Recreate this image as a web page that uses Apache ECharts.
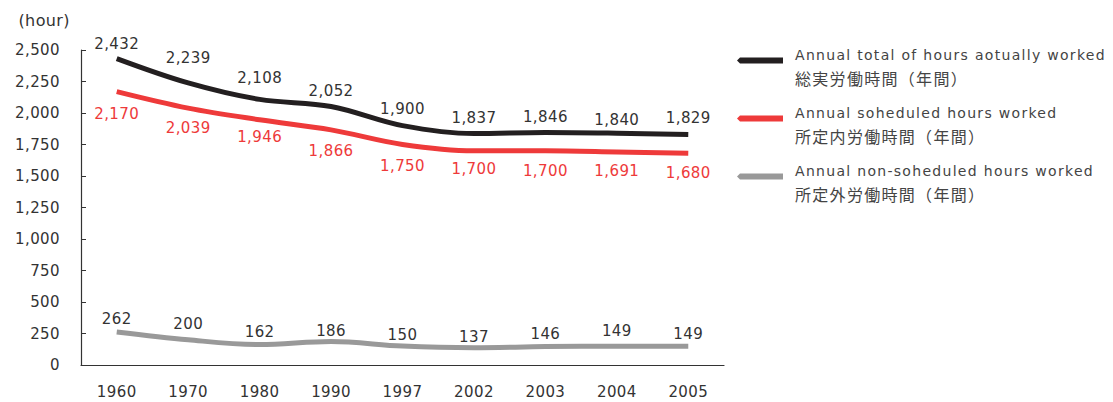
<!DOCTYPE html>
<html><head><meta charset="utf-8">
<script src="https://cdn.jsdelivr.net/npm/echarts@6/dist/echarts.min.js"></script>
<style>
html,body{margin:0;padding:0;background:#fff}
#c{width:1113px;height:402px}
#c svg text{letter-spacing:0.4px}
#c svg text[fill="#444"]{letter-spacing:1.3px}
</style>
</head><body><div id="c"></div>
<script>
var years = ['1960','1970','1980','1990','1997','2002','2003','2004','2005'];
var totalHours = [2432,2239,2108,2052,1900,1837,1846,1840,1829];
var scheduledHours = [2170,2039,1946,1866,1750,1700,1700,1691,1680];
var nonScheduledHours = [262,200,162,186,150,137,146,149,149];
var legendEn = ['Annual total of hours aotually worked','Annual soheduled hours worked','Annual non-soheduled hours worked'];
var legendJa = ['総実労働時間（年間）','所定内労働時間（年間）','所定外労働時間（年間）'];
// label gap (px, label centre to line) as placed in the original artwork
var gapTotal = [15, 25, 21, 15, 17, 15.5, 15, 13, 16.5];
var gapScheduled = [22, 20, 17.5, 21, 21, 18, 20, 19, 19.5];
var gapNonScheduled = [13, 16, 13, 11, 11, 11, 12.5, 15, 12];

var seriesNames = legendEn.map(function(e, i){ return e + '\n' + legendJa[i]; });
var fmt = function(v){ return String(v).replace(/\B(?=(\d{3})+(?!\d))/g, ','); };
var FONT = '"DejaVu Sans", "Noto Sans CJK JP", sans-serif';
var chart = echarts.init(document.getElementById('c'), null, {renderer: 'svg'});
function mk(name, values, gaps, color, labelColor, pos){
  var sign = pos === 'top' ? -1 : 1;
  return {
    name: name, type: 'line', smooth: 0.35,
    data: values.map(function(v, i){
      return {value: v, label: {offset: [0, sign * (gaps[i] - 7.5)]}};
    }),
    symbol: 'circle', symbolSize: 0, showSymbol: true,
    itemStyle: {color: color},
    lineStyle: {color: color, width: 5},
    label: {show: true, position: pos, distance: 0, color: labelColor,
      fontSize: 15, lineHeight: 15, fontFamily: FONT,
      formatter: function(p){ return fmt(p.value); }},
    emphasis: {disabled: true}
  };
}
var iconPath = 'path://M3,0 L46,0 L46,6 L3,6 L0,3 Z M53,17';
chart.setOption({
  animation: false,
  grid: {left: 81, top: 50, width: 643, height: 315, containLabel: false},
  legend: {
    orient: 'vertical', left: 732, top: 38, itemWidth: 53, itemHeight: 17,
    itemGap: 12,
    data: seriesNames.map(function(n){ return {name: n, icon: iconPath}; }),
    formatter: function(n){ var p = n.split('\n'); return '{en|' + p[0] + '}\n{ja|' + p[1] + '}'; },
    textStyle: {color: '#444', fontFamily: FONT, lineHeight: 23,
      rich: {en: {fontSize: 14, color: '#444', lineHeight: 23, fontFamily: FONT},
             ja: {fontSize: 16, color: '#444', lineHeight: 23, fontFamily: '"Noto Sans CJK JP", sans-serif'}}}
  },
  xAxis: {
    type: 'category', data: years, boundaryGap: true,
    axisLine: {lineStyle: {color: '#333', width: 1.2}},
    axisTick: {inside: true, length: 5, lineStyle: {color: '#333'}},
    axisLabel: {color: '#333', fontSize: 15, fontFamily: FONT, margin: 19}
  },
  yAxis: {
    type: 'value', min: 0, max: 2500, interval: 250,
    name: '(hour)', nameLocation: 'end', nameGap: 22,
    nameTextStyle: {color: '#333', fontSize: 16, fontFamily: FONT, align: 'right', padding: [0, 11, 0, 0]},
    axisLine: {show: true, lineStyle: {color: '#333', width: 1.2}},
    axisTick: {show: true, inside: true, length: 5, lineStyle: {color: '#333'}},
    splitLine: {show: false},
    axisLabel: {color: '#333', fontSize: 15, fontFamily: FONT, margin: 21, formatter: fmt}
  },
  series: [
    mk(seriesNames[0], totalHours, gapTotal, '#231f20', '#333', 'top'),
    mk(seriesNames[1], scheduledHours, gapScheduled, '#ee3a3a', '#ee3a3a', 'bottom'),
    mk(seriesNames[2], nonScheduledHours, gapNonScheduled, '#999999', '#333', 'top')
  ]
});
</script></body></html>
